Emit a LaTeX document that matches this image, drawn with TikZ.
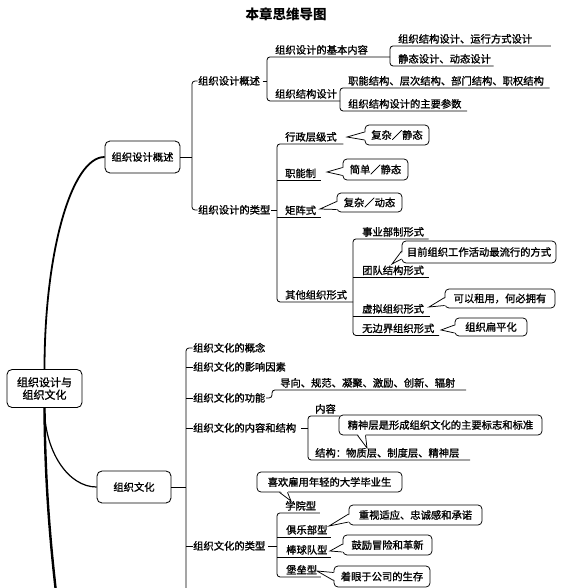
\documentclass[tikz,border=0pt]{standalone}
\usepackage{fontspec}
\setmainfont{Noto Sans CJK SC}
\newfontfamily\heavycjk{Noto Sans CJK SC}[FakeBold=1.2]
\newcommand\labfont{\heavycjk\fontsize{10.3}{12}\selectfont}
\newcommand\lptr[3]{%
  \fill[white] ([xshift=2pt,yshift={-(#3)*1pt+4pt}]#1.west) -- (#2) -- ([xshift=2pt,yshift={-(#3)*1pt-4pt}]#1.west) -- cycle;
  \draw[line width=0.75pt] ([yshift={-(#3)*1pt+4pt}]#1.west) -- (#2) -- ([yshift={-(#3)*1pt-4pt}]#1.west);}
\newcommand\bptr[3]{%
  \fill[white] ([xshift={(#3)*1pt-4pt},yshift=2pt]#1.south) -- (#2) -- ([xshift={(#3)*1pt+4pt},yshift=2pt]#1.south) -- cycle;
  \draw[line width=0.75pt] ([xshift={(#3)*1pt-4pt}]#1.south) -- (#2) -- ([xshift={(#3)*1pt+4pt}]#1.south);}
\tikzset{
  lab/.style={inner xsep=0.5pt, inner ysep=1.5pt, text height=9pt, text depth=1.5pt, anchor=west, font=\labfont},
  mbox/.style={draw, rounded corners=5pt, line width=0.85pt, align=center, inner sep=0pt, font=\labfont},
  cbox/.style={draw, fill=white, rounded corners=4pt, line width=0.75pt, inner sep=0pt, font=\labfont},
  br/.style={line width=0.8pt, rounded corners=3pt},
}
\begin{document}
\begin{tikzpicture}[x=1pt,y=-1pt]
\useasboundingbox (0,0) rectangle (562,588);
% title
\node[font=\bfseries\fontsize{13.5}{16}\selectfont] (title) at (286,14) {本章思维导图};

% main boxes
\node[mbox, minimum width=75pt, minimum height=38pt, font=\heavycjk\fontsize{11}{12.5}\selectfont] (R) at (44.5,388.5) {组织设计与\\组织文化};
\node[mbox, minimum width=75pt, minimum height=32pt] (A) at (142.5,157) {组织设计概述};
\node[mbox, minimum width=74pt, minimum height=32pt] (B) at (134,487) {组织文化};

% labels: design
\node[lab] (L1) at (197.5,81) {组织设计概述};
\node[lab] (L2) at (197.5,210) {组织设计的类型};
\node[lab] (L11) at (274.5,50) {组织设计的基本内容};
\node[lab] (L12) at (274.5,94) {组织结构设计};
\node[lab] (L111) at (397.5,39) {组织结构设计、运行方式设计};
\node[lab] (L112) at (397.5,59) {静态设计、动态设计};
\node[lab] (L121) at (347.5,81) {职能结构、层次结构、部门结构、职权结构};
\node[lab] (L122) at (347.5,104) {组织结构设计的主要参数};
\node[lab] (L21) at (284.5,137) {行政层级式};
\node[lab] (L22) at (284.5,173.5) {职能制};
\node[lab] (L23) at (284.5,210.5) {矩阵式};
\node[lab] (L24) at (284.5,295) {其他组织形式};
\node[lab] (L241) at (361.5,232) {事业部制形式};
\node[lab] (L242) at (361.5,270.5) {团队结构形式};
\node[lab] (L243) at (361.5,309) {虚拟组织形式};
\node[lab] (L244) at (361.5,328.5) {无边界组织形式};

% labels: culture
\node[lab] (L31) at (192.5,348) {组织文化的概念};
\node[lab] (L32) at (192.5,367) {组织文化的影响因素};
\node[lab] (L33) at (192.5,398) {组织文化的功能};
\node[lab] (L331) at (279.5,383) {导向、规范、凝聚、激励、创新、辐射};
\node[lab] (L34) at (192.5,428) {组织文化的内容和结构};
\node[lab] (L341) at (314.5,409) {内容};
\node[lab] (L342) at (314.5,453) {结构：物质层、制度层、精神层};
\node[lab] (L4) at (192.5,546) {组织文化的类型};
\node[lab] (L41) at (284.5,506) {学院型};
\node[lab] (L42) at (285.5,530) {俱乐部型};
\node[lab] (L43) at (285.5,550) {棒球队型};
\node[lab] (L44) at (285.5,570) {堡垒型};

% bracket columns
\coordinate (bx1) at (192,0);
\coordinate (bx2) at (267,0);
\coordinate (bx3) at (390,0);
\coordinate (bx4) at (340,0);
\coordinate (bx5) at (277,0);
\coordinate (bx6) at (353,0);
\coordinate (bx7) at (186,0);
\coordinate (bx8) at (308,0);
\coordinate (bx9) at (277,0);
\coordinate (bx10) at (272,0);
\coordinate (bx7end) at (186,592);
\coordinate (down) at (56,592);

% trunk curves
\draw[line width=1.8pt] (R.north) .. controls (44.5,252) and (71.6,157) .. (A.west);
\draw[line width=1.2pt] (R.south) .. controls (44.5,451) and (68,487) .. (B.west);
\draw[line width=2.4pt] (R.south) .. controls (45,480) and (50,540) .. (down);

% design brackets
\draw[br] (A.east) -- (A.east -| bx1);
\draw[br] (L1.west) -- (L1.west -| bx1) -- (L2.west -| bx1) -- (L2.west);
\draw[br] ([xshift=2pt]L1.east) -- (L1.east -| bx2);
\draw[br] (L11.south -| bx3) -- (L11.south -| bx2) -- (L12.south -| bx2) -- (L12.south -| bx4);
\draw[br] ([xshift=18pt]L111.south east) -- (L111.south -| bx3) -- (L112.south -| bx3) -- ([xshift=2pt]L112.south east);
\draw[br] ([xshift=5pt]L121.south east) -- (L121.south -| bx4) -- (L122.south -| bx4) -- ([xshift=5pt]L122.south east);
\draw[br] (L2.east) -- (L2.east -| bx5);
\draw[br] ([xshift=6pt]L21.south east) -- (L21.south -| bx5) -- (L24.south -| bx5) -- (L24.south -| bx6);
\draw[br] (L22.south -| bx5) -- ([xshift=4pt]L22.south east);
\draw[br] (L23.south -| bx5) -- ([xshift=4pt]L23.south east);
\draw[br] ([xshift=4pt]L241.south east) -- (L241.south -| bx6) -- (L244.south -| bx6) -- ([xshift=4pt]L244.south east);
\draw[br] (L242.south -| bx6) -- ([xshift=4pt]L242.south east);
\draw[br] (L243.south -| bx6) -- ([xshift=5pt]L243.south east);

% culture brackets
\draw[br] (B.east) -- (B.east -| bx7);
\draw[br] (L31.west) -- (L31.west -| bx7) -- (bx7end);
\draw[br] (L32.west -| bx7) -- (L32.west);
\draw[br] (L33.west -| bx7) -- (L33.west);
\draw[br] (L34.west -| bx7) -- (L34.west);
\draw[br] (L4.west -| bx7) -- (L4.west);
\draw[br] (L33.east) -- (L33.east -| bx10) -- (L331.south -| bx10) -- ([xshift=10pt]L331.south east);
\draw[br] ([xshift=4pt]L34.east) -- (L34.east -| bx8);
\draw[br] ([xshift=3pt]L341.south east) -- (L341.south -| bx8) -- (L342.south -| bx8) -- ([xshift=10pt]L342.south east);
\draw[br] ([xshift=2pt]L4.east) -- (L4.east -| bx9);
\draw[br] ([xshift=3pt]L41.south east) -- (L41.south -| bx9) -- (L44.south -| bx9) -- ([xshift=3pt]L44.south east);
\draw[br] (L42.south -| bx9) -- ([xshift=3pt]L42.south east);
\draw[br] (L43.south -| bx9) -- ([xshift=3pt]L43.south east);

% callouts
\node[cbox, minimum width=64pt, minimum height=20pt] (C21) at (397,135) {复杂／静态};
\node[cbox, minimum width=65pt, minimum height=21pt] (C22) at (375.5,169.5) {简单／静态};
\node[cbox, minimum width=65pt, minimum height=19pt] (C23) at (369.5,202.5) {复杂／动态};
\node[cbox, minimum width=154pt, minimum height=22pt] (C242) at (479,252) {目前组织工作活动最流行的方式};
\node[cbox, minimum width=110pt, minimum height=19pt] (C243) at (500,298.5) {可以租用，何必拥有};
\node[cbox, minimum width=72pt, minimum height=18pt] (C244) at (491,327) {组织扁平化};
\node[cbox, minimum width=203pt, minimum height=20pt] (C341) at (440.5,425) {精神层是形成组织文化的主要标志和标准};
\node[cbox, minimum width=145pt, minimum height=20pt] (C41) at (329.5,482) {喜欢雇用年轻的大学毕业生};
\node[cbox, minimum width=133pt, minimum height=20pt] (C42) at (415.5,515) {重视适应、忠诚感和承诺};
\node[cbox, minimum width=89pt, minimum height=20pt] (C43) at (387.5,545) {鼓励冒险和革新};
\node[cbox, minimum width=96pt, minimum height=21pt] (C44) at (382,576.5) {着眼于公司的生存};

\coordinate (t21) at (347,137);
\coordinate (t22) at (327,172);
\coordinate (t23) at (320,209);
\coordinate (t242) at (392,264);
\coordinate (t243) at (429,307);
\coordinate (t244) at (441,330);
\coordinate (t341) at (367,448);
\coordinate (t41) at (291,501);
\coordinate (t42) at (329,526);
\coordinate (t43) at (330,551);
\coordinate (t44) at (317,571);

\lptr{C21}{t21}{1}
\lptr{C22}{t22}{2}
\lptr{C23}{t23}{3}
\lptr{C242}{t242}{3}
\lptr{C243}{t243}{3}
\lptr{C244}{t244}{2}
\bptr{C341}{t341}{-79}
\bptr{C41}{t41}{-46}
\lptr{C42}{t42}{3}
\lptr{C43}{t43}{3}
\lptr{C44}{t44}{0}
\end{tikzpicture}
\end{document}
